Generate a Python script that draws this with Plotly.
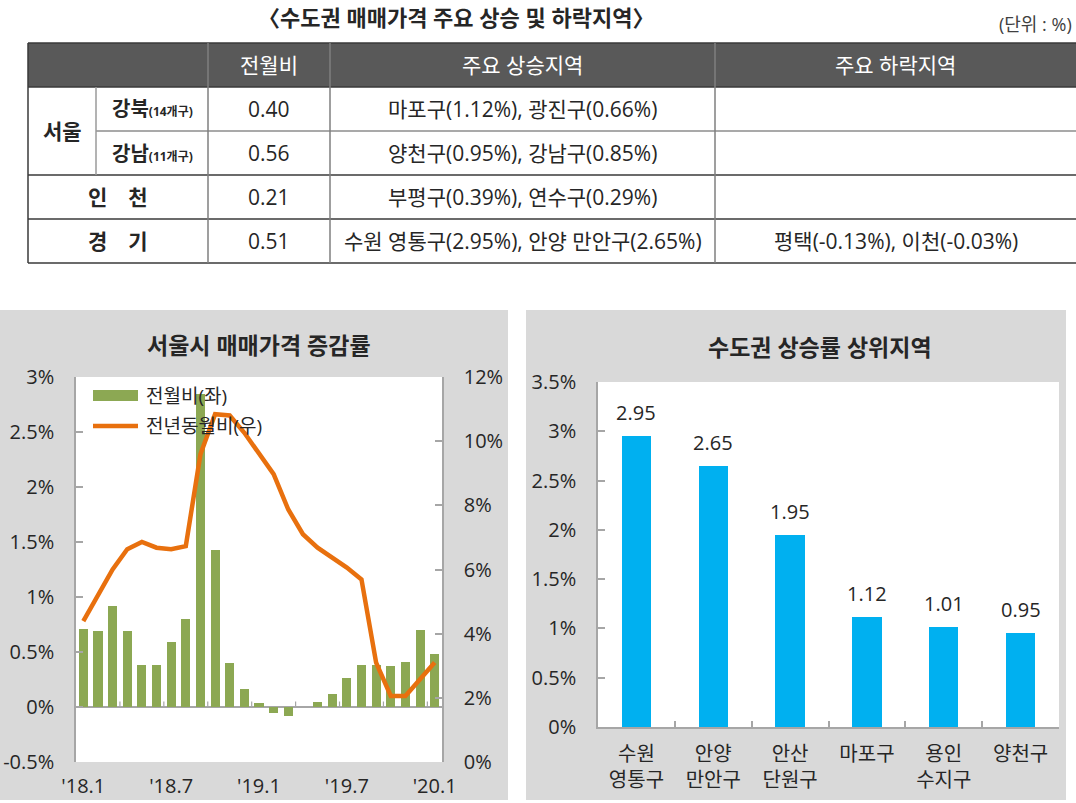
import plotly.graph_objects as go

# page size (px)
W, H = 1076, 803

def px(x):
    return x / W

def py(y):
    return 1 - y / H

FONT = 'Open Sans, Noto Sans CJK KR'
TXT = '#262626'
AXC = '#A6A6A6'
PANEL = '#D9D9D9'
GREEN = '#8CA853'
ORANGE = '#E8700E'
BLUE = '#00B0F0'

# --- table data ---
tbl_title = '〈수도권 매매가격 주요 상승 및 하락지역〉'
tbl_unit = '(단위 : %)'
tbl_header = ['전월비', '주요 상승지역', '주요 하락지역']
tbl_group = '서울'
tbl_region = ['강북', '강남', '인　천', '경　기']
tbl_note = ['(14개구)', '(11개구)', '', '']
tbl_mom = ['0.40', '0.56', '0.21', '0.51']
tbl_up = ['마포구(1.12%), 광진구(0.66%)', '양천구(0.95%), 강남구(0.85%)',
          '부평구(0.39%), 연수구(0.29%)', '수원 영통구(2.95%), 안양 만안구(2.65%)']
tbl_down = ['', '', '', '평택(-0.13%), 이천(-0.03%)']

# --- left chart data: 서울시 매매가격 증감률 ---
months = ['18.1', '18.2', '18.3', '18.4', '18.5', '18.6', '18.7', '18.8', '18.9', '18.10',
          '18.11', '18.12', '19.1', '19.2', '19.3', '19.4', '19.5', '19.6', '19.7', '19.8',
          '19.9', '19.10', '19.11', '19.12', '20.1']
mom = [0.71, 0.69, 0.92, 0.69, 0.38, 0.38, 0.59, 0.80, 2.85, 1.43, 0.40, 0.16, 0.04,
       -0.05, -0.08, 0.00, 0.05, 0.12, 0.26, 0.38, 0.38, 0.37, 0.41, 0.70, 0.48]
yoy = [4.39, 5.17, 6.00, 6.63, 6.86, 6.68, 6.63, 6.73, 9.59, 10.84, 10.80, 10.26, 9.64,
       8.97, 7.87, 7.10, 6.68, 6.37, 6.06, 5.69, 3.10, 2.06, 2.06, 2.58, 3.10]
month_ticks = ["'18.1", "'18.7", "'19.1", "'19.7", "'20.1"]
left_ticks = [-0.5, 0, 0.5, 1, 1.5, 2, 2.5, 3]
left_ticktext = ['-0.5%', '0%', '0.5%', '1%', '1.5%', '2%', '2.5%', '3%']
right_ticks = [0, 2, 4, 6, 8, 10, 12]
right_ticktext = ['0%', '2%', '4%', '6%', '8%', '10%', '12%']

# --- right chart data: 수도권 상승률 상위지역 ---
top_regions = ['수원<br>영통구', '안양<br>만안구', '안산<br>단원구', '마포구', '용인<br>수지구', '양천구']
top_rates = [2.95, 2.65, 1.95, 1.12, 1.01, 0.95]
top_ticks = [0, 0.5, 1, 1.5, 2, 2.5, 3, 3.5]
top_ticktext = ['0%', '0.5%', '1%', '1.5%', '2%', '2.5%', '3%', '3.5%']

idx = list(range(len(months)))
tick_idx = [i for i, m in enumerate(months) if m.endswith('.1') or m.endswith('.7')]

fig = go.Figure()
fig.add_trace(go.Bar(x=idx, y=mom, marker_color=GREEN, marker_line_width=0, width=0.62,
                     xaxis='x', yaxis='y', name='전월비(좌)'))
fig.add_trace(go.Scatter(x=idx, y=yoy, mode='lines', line=dict(color=ORANGE, width=4.5),
                         xaxis='x', yaxis='y2', name='전년동월비(우)'))
fig.add_trace(go.Bar(x=top_regions, y=top_rates, marker_color=BLUE, marker_line_width=0,
                     width=0.38, xaxis='x2', yaxis='y3'))

shapes = []
ann = []

# gray panels + white plot areas
shapes.append(dict(type='rect', xref='paper', yref='paper', x0=px(0), x1=px(508),
                   y0=py(800), y1=py(310), fillcolor=PANEL, line_width=0, layer='below'))
shapes.append(dict(type='rect', xref='paper', yref='paper', x0=px(526), x1=px(1066),
                   y0=py(800), y1=py(310), fillcolor=PANEL, line_width=0, layer='below'))
shapes.append(dict(type='rect', xref='x domain', yref='y domain', x0=0, x1=1, y0=0, y1=1,
                   fillcolor='white', line_width=0, layer='below'))
shapes.append(dict(type='rect', xref='x2 domain', yref='y3 domain', x0=0, x1=1, y0=0, y1=1,
                   fillcolor='white', line_width=0, layer='below'))

# table
col_edges = [28, 96, 208, 330, 715, 1076]
row_edges = [43, 87, 131, 175, 219, 263]
shapes.append(dict(type='rect', xref='paper', yref='paper', x0=px(col_edges[0]), x1=px(W),
                   y0=py(row_edges[1]), y1=py(row_edges[0]), fillcolor='#595959', line_width=0))

def hline(y, x0, x1, color='#3A3A3A', w=1.5):
    shapes.append(dict(type='line', xref='paper', yref='paper', x0=px(x0), x1=px(x1),
                       y0=py(y), y1=py(y), line=dict(color=color, width=w)))

def vline(x, y0, y1, color='#7F7F7F', w=1.5):
    shapes.append(dict(type='line', xref='paper', yref='paper', x0=px(x), x1=px(x),
                       y0=py(y0), y1=py(y1), line=dict(color=color, width=w)))

hline(row_edges[0], col_edges[0], W)
hline(row_edges[1], col_edges[0], W)
hline(row_edges[2], col_edges[1], W, color='#555555', w=1.2)
for y in row_edges[3:]:
    hline(y, col_edges[0], W)
vline(col_edges[0], row_edges[0], row_edges[-1], color='#3A3A3A')
vline(col_edges[1], row_edges[1], row_edges[3], color='#9A9A9A')
for x in col_edges[2:5]:
    vline(x, row_edges[0], row_edges[-1])

def text(x, y, s, size=21, color=TXT, xanchor='center', bold=False):
    ann.append(dict(xref='paper', yref='paper', x=px(x), y=py(y), text=f'<b>{s}</b>' if bold else s,
                    showarrow=False, xanchor=xanchor, yanchor='middle',
                    font=dict(family=FONT, size=size, color=color)))

text(456, 17, tbl_title, size=22, bold=True)
text(1074, 24, tbl_unit, size=18, xanchor='right', color='#404040')

col_mid = [(col_edges[i] + col_edges[i + 1]) / 2 for i in range(len(col_edges) - 1)]
head_mid = (row_edges[0] + row_edges[1]) / 2
for j, h in enumerate(tbl_header):
    text(col_mid[j + 2], head_mid, h, color='white')

text(col_mid[0], row_edges[2], tbl_group, bold=True)
for i in range(len(tbl_region)):
    ym = (row_edges[i + 1] + row_edges[i + 2]) / 2
    if tbl_note[i]:
        s = f"<b>{tbl_region[i]}</b><span style='font-size:12px'><b>{tbl_note[i]}</b></span>"
        text(col_mid[1], ym, s, size=20)
    else:
        text((col_edges[0] + col_edges[2]) / 2, ym, tbl_region[i], bold=True)
    text(col_mid[2], ym, tbl_mom[i])
    text(col_mid[3], ym, tbl_up[i])
    if tbl_down[i]:
        text(col_mid[4], ym, tbl_down[i])

# chart titles
text(259, 345, '서울시 매매가격 증감률', size=23, bold=True)
text(820, 347, '수도권 상승률 상위지역', size=23, bold=True)

# left chart legend (drawn by hand to get the wide swatches)
shapes.append(dict(type='rect', xref='paper', yref='paper', x0=px(93), x1=px(138),
                   y0=py(401), y1=py(390), fillcolor=GREEN, line_width=0))
shapes.append(dict(type='line', xref='paper', yref='paper', x0=px(93), x1=px(138),
                   y0=py(426), y1=py(426), line=dict(color=ORANGE, width=4.5)))
text(144, 396, '전월비(좌)', size=19, xanchor='left')
text(144, 426, '전년동월비(우)', size=19, xanchor='left')

# small tick marks on the zero line, every 3 months
for b in range(3, len(months), 3):
    shapes.append(dict(type='line', xref='x', yref='y', x0=b - 0.5, x1=b - 0.5, y0=0, y1=0.05,
                       line=dict(color=AXC, width=1.2)))

# value labels above the right chart bars
for r, v in zip(top_regions, top_rates):
    ann.append(dict(xref='x2', yref='y3', x=r, y=v, text=f'{v:.2f}', showarrow=False,
                    yanchor='bottom', yshift=8, font=dict(family=FONT, size=20, color=TXT)))

tickfont = dict(family=FONT, size=20, color=TXT)
fig.update_layout(
    width=W, height=H,
    margin=dict(l=0, r=0, t=0, b=0, pad=0, autoexpand=False),
    paper_bgcolor='white', plot_bgcolor='white',
    showlegend=False, bargap=0,
    shapes=shapes, annotations=ann,
    font=dict(family=FONT, color=TXT),
    xaxis=dict(domain=[px(76), px(442)], anchor='y', range=[-0.5, len(months) - 0.5],
               tickmode='array', tickvals=tick_idx, ticktext=month_ticks,
               showline=False, ticks='', showgrid=False, zeroline=False,
               tickfont=tickfont, ticklabelstandoff=10, automargin=False),
    yaxis=dict(domain=[py(762), py(377)], anchor='x', range=[-0.5, 3],
               tickmode='array', tickvals=left_ticks, ticktext=left_ticktext,
               ticks='inside', ticklen=7, tickcolor=AXC, tickwidth=1.5,
               showline=True, linecolor=AXC, linewidth=1.5,
               zeroline=True, zerolinecolor=AXC, zerolinewidth=1.5,
               showgrid=False, tickfont=tickfont, ticklabelstandoff=16, automargin=False),
    yaxis2=dict(overlaying='y', anchor='x', side='right', range=[0, 12],
                tickmode='array', tickvals=right_ticks, ticktext=right_ticktext,
                ticks='inside', ticklen=7, tickcolor=AXC, tickwidth=1.5,
                showline=True, linecolor=AXC, linewidth=1.5,
                zeroline=False, showgrid=False, tickfont=tickfont, ticklabelstandoff=16,
                automargin=False),
    xaxis2=dict(domain=[px(598), px(1059)], anchor='y3', type='category',
                tickson='boundaries', ticks='inside', ticklen=6, tickcolor=AXC, tickwidth=1.5,
                showline=True, linecolor=AXC, linewidth=1.5, showgrid=False,
                tickfont=tickfont, ticklabelstandoff=8, automargin=False),
    yaxis3=dict(domain=[py(727), py(382)], anchor='x2', range=[0, 3.5],
                tickmode='array', tickvals=top_ticks, ticktext=top_ticktext,
                ticks='inside', ticklen=7, tickcolor=AXC, tickwidth=1.5,
                showline=True, linecolor=AXC, linewidth=1.5,
                zeroline=False, showgrid=False, tickfont=tickfont, ticklabelstandoff=16,
                automargin=False),
)

# drop the default page margin so the figure sits at the window's top-left corner
fig.write_html('out.html', config={'displayModeBar': False},
               post_script="document.body.style.margin='0';")
